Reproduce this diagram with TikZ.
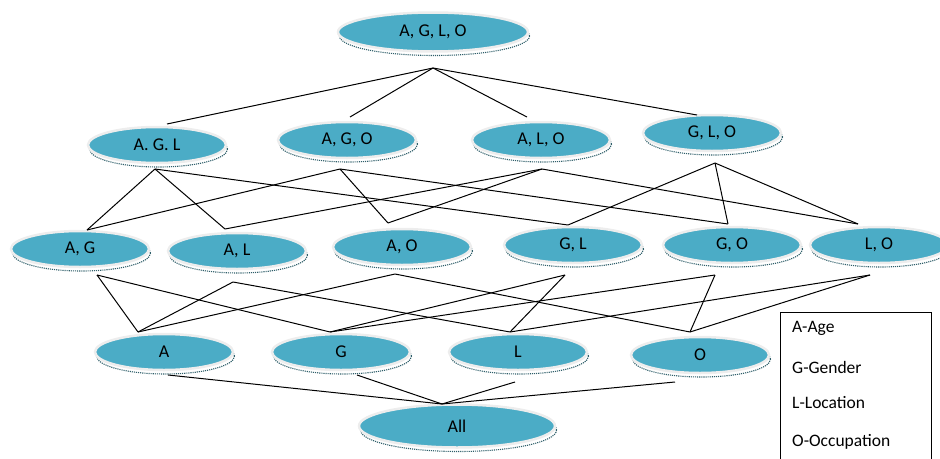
\documentclass[tikz,border=0pt]{standalone}
\usepackage{fontspec}
\setmainfont{Carlito}
\usetikzlibrary{shapes.geometric,shadows}
\definecolor{efill}{HTML}{4BACC6}
\definecolor{erim}{HTML}{EDEDED}
\definecolor{eshadow}{HTML}{2F5F6A}
\tikzset{
 ell/.style={ellipse, fill=efill, draw=erim, line width=2.5pt, minimum width=138pt, minimum height=36pt, inner sep=0pt,
   font=\fontsize{18}{21}\selectfont, text=black,
   drop shadow={shadow xshift=1.5pt, shadow yshift=-4pt, fill=white, draw=eshadow, densely dotted, line width=1.1pt, opacity=1}},
 bigell/.style={ell, minimum width=190pt, minimum height=39pt},
 link/.style={line width=1pt, black},
 legtext/.style={anchor=west, inner sep=0pt, font=\fontsize{17.5}{21}\selectfont, text=black},
 legbox/.style={draw, line width=1pt, anchor=north west, minimum width=151pt, minimum height=158pt, inner sep=0pt}
}
\begin{document}
\begin{tikzpicture}[x=1pt,y=-1pt]
\useasboundingbox (0,0) rectangle (940,458);
% nodes
\node[bigell] (top) at (433,32) {A, G, L, O};
\node[ell] (agl) at (157,145) {A. G. L};
\node[ell] (ago) at (347,140) {A, G, O};
\node[ell] (alo) at (541,140) {A, L, O};
\node[ell] (glo) at (712,133) {G, L, O};
\node[ell] (ag) at (80,249) {A, G};
\node[ell] (al) at (237,251) {A, L};
\node[ell] (ao) at (402,247) {A, O};
\node[ell] (gl) at (573,245) {G, L};
\node[ell] (go) at (732,245) {G, O};
\node[ell] (lo) at (879,245) {L, O};
\node[ell] (a) at (164,352) {A};
\node[ell] (g) at (341,352) {G};
\node[ell] (l) at (518,352) {L};
\node[ell] (o) at (700,355) {O};
\node[bigell, minimum width=196pt, minimum height=43pt] (all) at (457,426) {All};
% connection points
\coordinate (top-o) at ([shift={(0,36)}]top.center);
\coordinate (agl-i) at ([shift={(10,-21)}]agl.center);
\coordinate (agl-o) at ([shift={(-2,24)}]agl.center);
\coordinate (ago-i) at ([shift={(3,-23)}]ago.center);
\coordinate (ago-o) at ([shift={(-7,29)}]ago.center);
\coordinate (alo-i) at ([shift={(-14,-23)}]alo.center);
\coordinate (alo-o) at ([shift={(1,29)}]alo.center);
\coordinate (glo-i) at ([shift={(-15,-18)}]glo.center);
\coordinate (glo-o) at ([shift={(3,30)}]glo.center);
\coordinate (ag-i) at ([shift={(7,-19)}]ag.center);
\coordinate (ag-o) at ([shift={(17,26)}]ag.center);
\coordinate (al-i) at ([shift={(-12,-22)}]al.center);
\coordinate (al-o) at ([shift={(-4,31)}]al.center);
\coordinate (ao-i) at ([shift={(-14,-24)}]ao.center);
\coordinate (ao-o) at ([shift={(-7,27)}]ao.center);
\coordinate (gl-i) at ([shift={(-5,-20)}]gl.center);
\coordinate (gl-o) at ([shift={(-8,30)}]gl.center);
\coordinate (go-i) at ([shift={(-4,-21)}]go.center);
\coordinate (go-o) at ([shift={(-17,30)}]go.center);
\coordinate (lo-i) at ([shift={(-21,-21)}]lo.center);
\coordinate (lo-o) at ([shift={(-9,30)}]lo.center);
\coordinate (a-i) at ([shift={(-26,-20)}]a.center);
\coordinate (a-o) at ([shift={(4,23)}]a.center);
\coordinate (g-i) at ([shift={(-11,-20)}]g.center);
\coordinate (g-o) at ([shift={(16,23)}]g.center);
\coordinate (l-i) at ([shift={(-8,-20)}]l.center);
\coordinate (l-o) at ([shift={(-3,30)}]l.center);
\coordinate (o-i) at ([shift={(-10,-23)}]o.center);
\coordinate (o-o) at ([shift={(-25,27)}]o.center);
\coordinate (all-i) at ([shift={(-15,-22)}]all.center);
% edges
\draw[link] (top-o) -- (agl-i);
\draw[link] (top-o) -- (ago-i);
\draw[link] (top-o) -- (alo-i);
\draw[link] (top-o) -- (glo-i);
\draw[link] (agl-o) -- (ag-i);
\draw[link] (agl-o) -- (al-i);
\draw[link] (agl-o) -- (gl-i);
\draw[link] (ago-o) -- (ag-i);
\draw[link] (ago-o) -- (ao-i);
\draw[link] (ago-o) -- (go-i);
\draw[link] (alo-o) -- (al-i);
\draw[link] (alo-o) -- (ao-i);
\draw[link] (alo-o) -- (lo-i);
\draw[link] (glo-o) -- (gl-i);
\draw[link] (glo-o) -- (go-i);
\draw[link] (glo-o) -- (lo-i);
\draw[link] (ag-o) -- (a-i);
\draw[link] (ag-o) -- (g-i);
\draw[link] (al-o) -- (a-i);
\draw[link] (al-o) -- (l-i);
\draw[link] (ao-o) -- (a-i);
\draw[link] (ao-o) -- (o-i);
\draw[link] (gl-o) -- (g-i);
\draw[link] (gl-o) -- (l-i);
\draw[link] (go-o) -- (g-i);
\draw[link] (go-o) -- (o-i);
\draw[link] (lo-o) -- (l-i);
\draw[link] (lo-o) -- (o-i);
\draw[link] (a-o) -- (all-i);
\draw[link] (g-o) -- (all-i);
\draw[link] (l-o) -- (all-i);
\draw[link] (o-o) -- (all-i);
% legend
\node[legbox] (legend) at (780,312) {};
\node[legtext] (la) at (792,328) {A-Age};
\node[legtext] (lg) at (792,367) {G-Gender};
\node[legtext] (ll) at (792,403) {L-Location};
\node[legtext] (lo2) at (792,442) {O-Occupation};
\end{tikzpicture}
\end{document}
